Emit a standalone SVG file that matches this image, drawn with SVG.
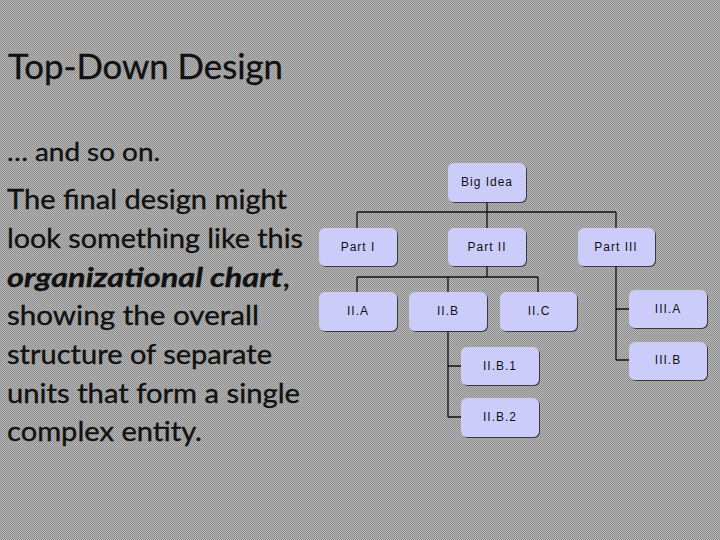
<svg xmlns="http://www.w3.org/2000/svg" width="720" height="540" viewBox="0 0 720 540">
<defs>
<pattern id="dither" width="2" height="2" patternUnits="userSpaceOnUse">
<rect width="2" height="2" fill="#b8b8b8"/>
<rect width="1" height="1" fill="#8c8c8c"/>
<rect x="1" y="1" width="1" height="1" fill="#8c8c8c"/>
</pattern>
<filter id="sh" x="-10%" y="-10%" width="130%" height="130%">
<feDropShadow dx="1" dy="1" stdDeviation="0.6" flood-color="#222" flood-opacity="0.8"/>
</filter>
</defs>
<style>
.box{fill:#ccccfa;filter:url(#sh)}
.lbl{font-family:"Liberation Sans",Arial,sans-serif;font-size:12px;letter-spacing:1px;fill:#111;text-anchor:middle}
.body{font-family:Lato,"Open Sans",sans-serif;fill:#111;stroke:#111;stroke-width:0.35}
.conn{stroke:#111;stroke-width:1.3;fill:none}
</style>
<rect width="720" height="540" fill="url(#dither)"/>
<text class="body" x="8" y="79" font-size="34" textLength="275" lengthAdjust="spacingAndGlyphs">Top-Down Design</text>
<text class="body" x="7" y="161" font-size="25" textLength="153" lengthAdjust="spacingAndGlyphs">… and so on.</text>
<g class="body" font-size="27">
<text x="7" y="209" textLength="280" lengthAdjust="spacingAndGlyphs">The final design might</text>
<text x="7" y="248" textLength="296" lengthAdjust="spacingAndGlyphs">look something like this</text>
<text x="7" y="287" textLength="283" lengthAdjust="spacingAndGlyphs"><tspan font-weight="bold" font-style="italic">organizational chart</tspan>,</text>
<text x="7" y="325" textLength="252" lengthAdjust="spacingAndGlyphs">showing  the overall</text>
<text x="7" y="364" textLength="265" lengthAdjust="spacingAndGlyphs">structure of separate</text>
<text x="7" y="403" textLength="293" lengthAdjust="spacingAndGlyphs">units that form a single</text>
<text x="7" y="441" textLength="195" lengthAdjust="spacingAndGlyphs">complex entity.</text>
</g>
<g id="connectors" class="conn">
<path d="M487 202V228M357 212H616M357 212V228M616 212V228"/>
<path d="M487 266V277M357 277H538M357 277V292M448 277V292M538 277V292"/>
<path d="M448 331V417M448 366H461M448 417H461"/>
<path d="M616 266V360M616 309H629M616 360H629"/>
</g>
<g id="big-idea"><rect class="box" x="448" y="163" width="78" height="39" rx="6"/><text class="lbl" x="487" y="186">Big Idea</text></g>
<g id="part-1"><rect class="box" x="319" y="228" width="78" height="38" rx="6"/><text class="lbl" x="358" y="251">Part I</text></g>
<g id="part-2"><rect class="box" x="448" y="228" width="78" height="38" rx="6"/><text class="lbl" x="487" y="251">Part II</text></g>
<g id="part-3"><rect class="box" x="578" y="228" width="77" height="38" rx="6"/><text class="lbl" x="616" y="251">Part III</text></g>
<g id="ii-a"><rect class="box" x="319" y="292" width="78" height="39" rx="6"/><text class="lbl" x="358" y="315">II.A</text></g>
<g id="ii-b"><rect class="box" x="409" y="292" width="78" height="39" rx="6"/><text class="lbl" x="448" y="315">II.B</text></g>
<g id="ii-c"><rect class="box" x="500" y="292" width="77" height="39" rx="6"/><text class="lbl" x="539" y="315">II.C</text></g>
<g id="iii-a"><rect class="box" x="629" y="290" width="78" height="38" rx="6"/><text class="lbl" x="668" y="313">III.A</text></g>
<g id="iii-b"><rect class="box" x="629" y="342" width="78" height="38" rx="6"/><text class="lbl" x="668" y="364">III.B</text></g>
<g id="ii-b-1"><rect class="box" x="461" y="347" width="78" height="38" rx="6"/><text class="lbl" x="500" y="370">II.B.1</text></g>
<g id="ii-b-2"><rect class="box" x="461" y="398" width="78" height="39" rx="6"/><text class="lbl" x="500" y="421">II.B.2</text></g>
</svg>
